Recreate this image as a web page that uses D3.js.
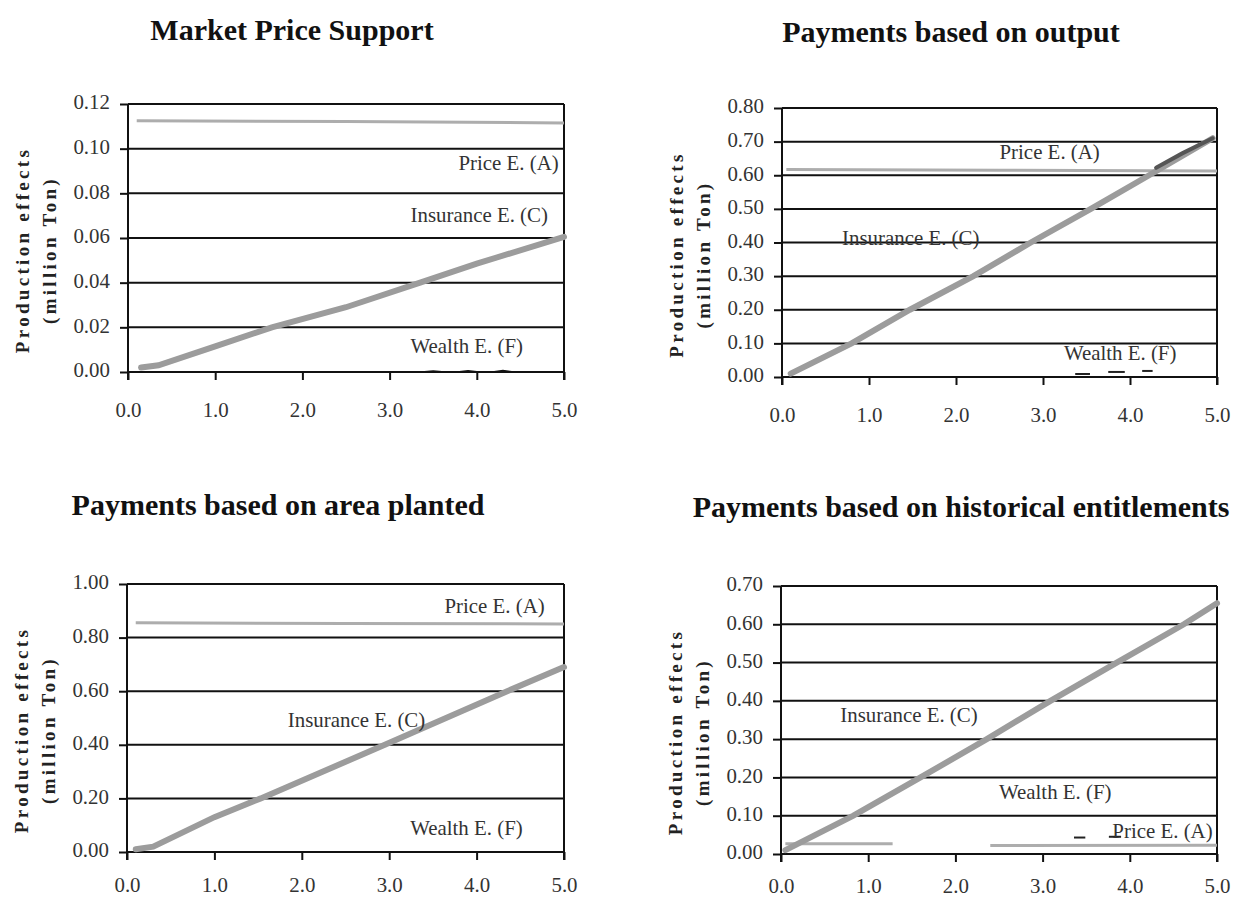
<!DOCTYPE html>
<html>
<head>
<meta charset="utf-8">
<script src="https://cdn.jsdelivr.net/npm/d3@7"></script>
<style>
  body { margin: 0; background: #fff; }
  svg { display: block; }
  text { font-family: "Liberation Serif", "DejaVu Serif", serif; }
</style>
</head>
<body>
<div id="chart"></div>
<script>
// ---- data ----
const xTicks = [0, 1, 2, 3, 4, 5];

const titles = [
    "Market Price Support",
    "Payments based on output",
    "Payments based on area planted",
    "Payments based on historical entitlements"
];

const yMax = [0.12, 0.80, 1.00, 0.70];
const yStep = [0.02, 0.10, 0.20, 0.10];

// Market Price Support
const mpsPrice = [[0.1, 0.1125], [2.5, 0.1122], [5.0, 0.1115]];
const mpsInsurance = [[0.15, 0.002], [0.35, 0.003], [1.0, 0.0115], [1.65, 0.020], [2.5, 0.029], [3.35, 0.040], [4.0, 0.0485], [5.0, 0.0605]];
const mpsWealth = [[3.0, 0], [3.4, 0], [3.5, 0.0003], [3.6, 0], [3.8, 0], [3.9, 0.0004], [4.0, 0], [4.2, 0], [4.3, 0.0005], [4.4, 0], [5.0, 0]];
const mpsDashes = [];
const mpsDark = [];

// Payments based on output
const outPrice = [[0.05, 0.617], [2.5, 0.615], [5.0, 0.613]];
const outInsurance = [[0.1, 0.01], [0.8, 0.10], [1.47, 0.20], [2.2, 0.30], [2.86, 0.40], [3.55, 0.50], [4.22, 0.60], [4.95, 0.71]];
const outWealth = [[2.0, 0], [5.0, 0]];
const outDashes = [[3.37, 3.54, 0.009], [3.75, 3.94, 0.015], [4.14, 4.26, 0.018]];
const outDark = [[4.3, 0.622], [4.6, 0.665], [4.95, 0.71]];

// Payments based on area planted
const areaPrice = [[0.1, 0.855], [2.5, 0.853], [5.0, 0.851]];
const areaInsurance = [[0.1, 0.01], [0.3, 0.02], [1.0, 0.13], [1.53, 0.20], [2.95, 0.40], [4.35, 0.60], [5.0, 0.69]];
const areaWealth = [[0.8, 0], [5.0, 0]];
const areaDashes = [];
const areaDark = [];

// Payments based on historical entitlements
const histPrice = [[0.05, 0.027], [1.28, 0.027], [1.9, null], [2.4, 0.022], [5.0, 0.023]];
const histInsurance = [[0.05, 0.01], [0.83, 0.10], [1.6, 0.20], [2.36, 0.30], [3.09, 0.40], [3.85, 0.50], [4.62, 0.60], [5.0, 0.655]];
const histWealth = [[0.75, 0], [5.0, 0]];
const histDashes = [[3.36, 3.49, 0.043], [3.76, 3.90, 0.045]];
const histDark = [];

// series labels: [text, x, y, anchor]
const mpsLabels = [["Price E. (A)", 4.94, 0.0905, "end"], ["Insurance E. (C)", 3.24, 0.067, "start"], ["Wealth E. (F)", 3.24, 0.0085, "start"]];
const outLabels = [["Price E. (A)", 2.5, 0.649, "start"], ["Insurance E. (C)", 0.69, 0.394, "start"], ["Wealth E. (F)", 3.24, 0.05, "start"]];
const areaLabels = [["Price E. (A)", 4.78, 0.89, "end"], ["Insurance E. (C)", 1.84, 0.465, "start"], ["Wealth E. (F)", 3.24, 0.064, "start"]];
const histLabels = [["Insurance E. (C)", 0.68, 0.346, "start"], ["Wealth E. (F)", 2.5, 0.143, "start"], ["Price E. (A)", 4.95, 0.043, "end"]];

const panels = [
    { price: mpsPrice, ins: mpsInsurance, wealth: mpsWealth, dashes: mpsDashes, dark: mpsDark, labels: mpsLabels },
    { price: outPrice, ins: outInsurance, wealth: outWealth, dashes: outDashes, dark: outDark, labels: outLabels },
    { price: areaPrice, ins: areaInsurance, wealth: areaWealth, dashes: areaDashes, dark: areaDark, labels: areaLabels },
    { price: histPrice, ins: histInsurance, wealth: histWealth, dashes: histDashes, dark: histDark, labels: histLabels }
];

// ---- layout ----
const boxes = [
    { x0: 128, x1: 564, y0: 104, y1: 372, tx: 292, ty: 40, pad: 21 },
    { x0: 782, x1: 1217, y0: 108, y1: 377, tx: 951, ty: 42, pad: 21 },
    { x0: 127, x1: 564, y0: 584, y1: 852, tx: 278, ty: 515, pad: 16 },
    { x0: 781, x1: 1217, y0: 586, y1: 854, tx: 961, ty: 517, pad: 15 }
];

const svg = d3.select("#chart").append("svg")
    .attr("width", 1237).attr("height", 901);

panels.forEach((p, i) => {
    const b = boxes[i];
    const g = svg.append("g");

    const x = d3.scaleLinear().domain([0, 5]).range([b.x0, b.x1]);
    const y = d3.scaleLinear().domain([0, yMax[i]]).range([b.y1, b.y0]);
    const yTicks = d3.range(0, yMax[i] + yStep[i] / 2, yStep[i]);

    // title
    g.append("text")
        .attr("x", b.tx).attr("y", b.ty)
        .attr("text-anchor", "middle")
        .attr("font-size", 30).attr("font-weight", "bold")
        .attr("fill", "#111")
        .text(titles[i]);

    // gridlines
    g.append("g").selectAll("line").data(yTicks).enter().append("line")
        .attr("x1", b.x0).attr("x2", b.x1)
        .attr("y1", d => y(d)).attr("y2", d => y(d))
        .attr("stroke", "#111").attr("stroke-width", 2);

    // y axis
    const yAxis = d3.axisLeft(y).tickValues(yTicks).tickSize(8).tickPadding(11)
        .tickFormat(d3.format(".2f"));
    const ya = g.append("g").attr("transform", `translate(${b.x0},0)`).call(yAxis);
    ya.select(".domain").remove();
    ya.selectAll("line").attr("stroke", "#111").attr("stroke-width", 2);
    ya.selectAll("text").attr("font-size", 22).attr("fill", "#333")
        .attr("font-family", "Liberation Serif").attr("dy", "0.22em")
        .attr("transform", "scale(0.95,1)");

    // x axis (domain hidden, ticks only)
    const xAxis = d3.axisBottom(x).tickValues(xTicks).tickSize(8).tickPadding(b.pad)
        .tickFormat(d3.format(".1f"));
    const xa = g.append("g").attr("transform", `translate(0,${b.y1})`).call(xAxis);
    xa.select(".domain").remove();
    xa.selectAll("line").attr("stroke", "#111").attr("stroke-width", 2);
    xa.selectAll("text").attr("font-size", 22).attr("fill", "#333")
        .attr("font-family", "Liberation Serif")
        .attr("transform", "scale(0.95,1)");

    // left and right frame lines
    g.append("line").attr("x1", b.x0).attr("x2", b.x0)
        .attr("y1", b.y0).attr("y2", b.y1 + 8)
        .attr("stroke", "#111").attr("stroke-width", 2);
    g.append("line").attr("x1", b.x1).attr("x2", b.x1)
        .attr("y1", b.y0).attr("y2", b.y1 + 8)
        .attr("stroke", "#111").attr("stroke-width", 2);

    // y title
    const cy = (b.y0 + b.y1) / 2 + 12;
    [["Production effects", 106], ["(million Ton)", 79]].forEach(([t, off]) => {
        g.append("text")
            .attr("transform", `translate(${b.x0 - off},${cy}) rotate(-90)`)
            .attr("text-anchor", "middle")
            .attr("dy", "0.35em")
            .attr("font-size", 19).attr("font-weight", "bold")
            .attr("letter-spacing", 3.3)
            .attr("fill", "#222")
            .text(t);
    });

    const line = d3.line()
        .defined(d => d[1] !== null)
        .x(d => x(d[0])).y(d => y(d[1]));

    g.append("path").datum(p.price)
        .attr("d", line).attr("fill", "none")
        .attr("stroke", "#adadad").attr("stroke-width", 3);

    g.append("path").datum(p.ins)
        .attr("d", line).attr("fill", "none")
        .attr("stroke", "#9c9c9c").attr("stroke-width", 6)
        .attr("stroke-linecap", "round");

    g.append("path").datum(p.dark)
        .attr("d", line).attr("fill", "none")
        .attr("stroke", "#555").attr("stroke-width", 4)
        .attr("stroke-linecap", "round");

    g.append("path").datum(p.wealth)
        .attr("d", line).attr("fill", "none")
        .attr("stroke", "#111").attr("stroke-width", 2);

    g.append("g").selectAll("line").data(p.dashes).enter().append("line")
        .attr("x1", d => x(d[0])).attr("x2", d => x(d[1]))
        .attr("y1", d => y(d[2])).attr("y2", d => y(d[2]))
        .attr("stroke", "#222").attr("stroke-width", 2);

    // series labels
    g.append("g").selectAll("text").data(p.labels).enter().append("text")
        .attr("transform", d => `translate(${x(d[1])},${y(d[2])}) scale(0.95,1)`)
        .attr("text-anchor", d => d[3])
        .attr("font-size", 22).attr("fill", "#333")
        .text(d => d[0]);
});
</script>
</body>
</html>
